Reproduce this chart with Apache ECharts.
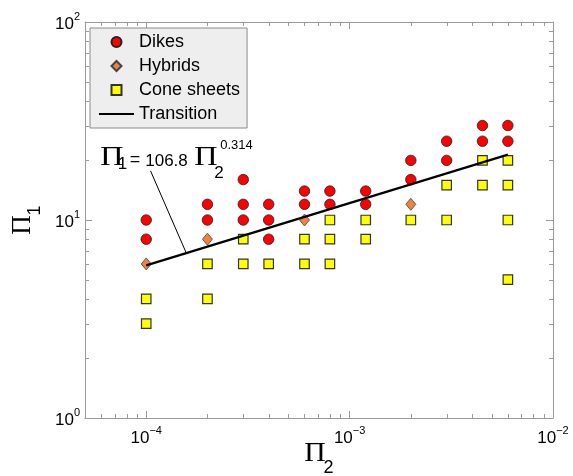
<!DOCTYPE html>
<html>
<head>
<meta charset="utf-8">
<script src="https://cdn.jsdelivr.net/npm/echarts@6/dist/echarts.min.js"></script>
<style>html,body{margin:0;padding:0;background:#fff}#c{width:573px;height:476px}</style>
</head>
<body>
<div id="c"></div>
<script>
const dikesX = [1e-4,1e-4, 2e-4,2e-4, 3e-4,3e-4,3e-4, 4e-4,4e-4,4e-4, 6e-4,6e-4, 8e-4,8e-4, 1.2e-3,1.2e-3, 2e-3,2e-3, 3e-3,3e-3, 4.5e-3,4.5e-3, 6e-3,6e-3];
const dikesY = [10,8, 12,10, 16,12,10, 12,10,8, 14,12, 14,12, 14,12, 20,16, 25,20, 30,25, 30,25];
const hybridsX = [1e-4, 2e-4, 6e-4, 2e-3];
const hybridsY = [6, 8, 10, 12];
const coneX = [1e-4,1e-4, 2e-4,2e-4, 3e-4,3e-4, 4e-4, 6e-4,6e-4, 8e-4,8e-4,8e-4, 1.2e-3,1.2e-3, 2e-3, 3e-3,3e-3, 4.5e-3,4.5e-3, 6e-3,6e-3,6e-3,6e-3];
const coneY = [4,3, 6,4, 8,6, 6, 8,6, 10,8,6, 10,8, 10, 15,10, 20,15, 20,15,10,5];
const transX = [1e-4, 6e-3];
const transY = [5.9, 21.4];
const leaderX = [1.05e-4, 1.57e-4];
const leaderY = [17.7, 6.85];
const xMinorTicks = [6e-5,7e-5,8e-5,9e-5, 2e-4,3e-4,4e-4,5e-4,6e-4,7e-4,8e-4,9e-4, 2e-3,3e-3,4e-3,5e-3,6e-3,7e-3,8e-3,9e-3];
const yMinorTicks = [2,3,4,5,6,7,8,9, 20,30,40,50,60,70,80,90];
const xMin = 5e-5, xMax = 1e-2, yMin = 1, yMax = 100;

const zip = (a, b) => a.map((v, i) => [v, b[i]]);
const SANS = 'Liberation Sans, Arial, Helvetica, sans-serif';
const SERIF = 'Liberation Serif, Times New Roman, serif';
const AX = '#9a9a9a';

function powLabel(v) {
  const e = Math.log10(v);
  if (Math.abs(e - Math.round(e)) > 1e-6) return '';
  const n = Math.round(e);
  return '{b|10}{s|' + (n < 0 ? '\u2212' + (-n) : n) + '}';
}
const labelRich = {
  b: {fontSize: 17, fontFamily: SANS, color: '#000', lineHeight: 22, verticalAlign: 'bottom'},
  s: {fontSize: 11, fontFamily: SANS, color: '#000', lineHeight: 11, verticalAlign: 'top'}
};

const chart = echarts.init(document.getElementById('c'), null, {renderer: 'canvas'});

function minorX(params, api) {
  const v = api.value(0);
  const a = api.coord([v, yMin]);
  const b = api.coord([v, yMax]);
  const st = {stroke: AX, lineWidth: 1};
  return {type: 'group', children: [
    {type: 'line', shape: {x1: Math.round(a[0]) + 0.5, y1: a[1], x2: Math.round(a[0]) + 0.5, y2: a[1] - 4}, style: st},
    {type: 'line', shape: {x1: Math.round(b[0]) + 0.5, y1: b[1], x2: Math.round(b[0]) + 0.5, y2: b[1] + 4}, style: st}
  ]};
}
function minorY(params, api) {
  const v = api.value(1);
  const a = api.coord([xMin, v]);
  const b = api.coord([xMax, v]);
  const st = {stroke: AX, lineWidth: 1};
  return {type: 'group', children: [
    {type: 'line', shape: {x1: a[0], y1: Math.round(a[1]) + 0.5, x2: a[0] + 4, y2: Math.round(a[1]) + 0.5}, style: st},
    {type: 'line', shape: {x1: b[0], y1: Math.round(b[1]) + 0.5, x2: b[0] - 4, y2: Math.round(b[1]) + 0.5}, style: st}
  ]};
}

const axisCommon = {
  type: 'log', logBase: 10,
  axisLine: {show: true, lineStyle: {color: AX, width: 1}},
  axisTick: {show: true, inside: true, length: 7, lineStyle: {color: AX}},
  splitLine: {show: false},
  minorTick: {show: false}
};

const option = {
  backgroundColor: '#fff',
  animation: false,
  grid: {left: 85, right: 20, top: 22, bottom: 58, containLabel: false},
  legend: {
    left: 90, top: 28, orient: 'vertical',
    data: [
      {name: 'Dikes', icon: 'circle'},
      {name: 'Hybrids', icon: 'path://M5,0L10,5L5,10L0,5Z'},
      {name: 'Cone sheets', icon: 'path://M0,0L10,0L10,10L0,10Z'},
      {name: 'Transition', itemStyle: {color: 'rgba(0,0,0,0)', borderWidth: 0, opacity: 0}}],
    symbolKeepAspect: true,
    backgroundColor: '#eeeeee', borderColor: '#8a8a8a', borderWidth: 1,
    padding: [5, 7, 5, 8], itemGap: 6, itemWidth: 35, itemHeight: 10,
    textStyle: {fontSize: 18, fontFamily: SANS, color: '#000'},
    selectedMode: false
  },
  xAxis: [
    Object.assign({}, axisCommon, {min: xMin, max: xMax, position: 'bottom',
      axisLabel: {formatter: powLabel, rich: labelRich, margin: 7, showMinLabel: false}}),
    Object.assign({}, axisCommon, {min: xMin, max: xMax, position: 'top', axisLabel: {show: false}})
  ],
  yAxis: [
    Object.assign({}, axisCommon, {min: yMin, max: yMax, position: 'left',
      axisLabel: {formatter: powLabel, rich: labelRich, margin: 5}}),
    Object.assign({}, axisCommon, {min: yMin, max: yMax, position: 'right', axisLabel: {show: false}})
  ],
  series: [
    {name: 'minorX', type: 'custom', renderItem: minorX, data: xMinorTicks.map(v => [v, yMin]), silent: true, z: 1},
    {name: 'minorY', type: 'custom', renderItem: minorY, data: yMinorTicks.map(v => [xMin, v]), silent: true, z: 1},
    {name: 'Dikes', type: 'scatter', data: zip(dikesX, dikesY), symbol: 'circle', symbolSize: 10.5,
      itemStyle: {color: '#ff0000', borderColor: '#222', borderWidth: 0.8, opacity: 1}, z: 3},
    {name: 'Hybrids', type: 'scatter', data: zip(hybridsX, hybridsY), symbol: 'diamond', symbolSize: [10, 12],
      itemStyle: {color: '#f0823c', borderColor: '#444', borderWidth: 0.8, opacity: 1}, z: 3},
    {name: 'Cone sheets', type: 'scatter', data: zip(coneX, coneY), symbol: 'rect', symbolSize: 9.5,
      itemStyle: {color: '#ffff00', borderColor: '#333', borderWidth: 1.2, opacity: 1}, z: 3},
    {name: 'Transition', type: 'line', data: zip(transX, transY), symbol: 'none', showSymbol: false,
      lineStyle: {color: '#000', width: 2.2}, itemStyle: {color: 'rgba(0,0,0,0)', borderWidth: 0}, z: 4},
    {name: 'leader', type: 'line', data: zip(leaderX, leaderY), symbol: 'none', showSymbol: false,
      lineStyle: {color: '#000', width: 1}, z: 4, silent: true}
  ],
  graphic: [
    // annotation: Π1 = 106.8 Π2^0.314
    {type: 'text', x: 112, y: 157.5, scaleX: 1.15, style: {text: '\u03A0', font: '28px ' + SERIF, fill: '#000', textAlign: 'center', textVerticalAlign: 'middle'}},
    {type: 'text', x: 122.5, y: 164.5, style: {text: '1', font: '17px ' + SANS, fill: '#000', textAlign: 'center', textVerticalAlign: 'middle'}},
    {type: 'text', x: 135, y: 160, style: {text: '=', font: '18px ' + SANS, fill: '#000', textAlign: 'center', textVerticalAlign: 'middle'}},
    {type: 'text', x: 166.5, y: 161, style: {text: '106.8', font: '17px ' + SANS, fill: '#000', textAlign: 'center', textVerticalAlign: 'middle'}},
    {type: 'text', x: 206, y: 157.5, scaleX: 1.15, style: {text: '\u03A0', font: '28px ' + SERIF, fill: '#000', textAlign: 'center', textVerticalAlign: 'middle'}},
    {type: 'text', x: 219, y: 173.5, style: {text: '2', font: '17px ' + SANS, fill: '#000', textAlign: 'center', textVerticalAlign: 'middle'}},
    {type: 'text', x: 236.5, y: 145.5, style: {text: '0.314', font: '13px ' + SANS, fill: '#000', textAlign: 'center', textVerticalAlign: 'middle'}},
    // x axis name Π2
    {type: 'text', x: 315, y: 454, scaleX: 1.1, style: {text: '\u03A0', font: '27px ' + SERIF, fill: '#000', textAlign: 'center', textVerticalAlign: 'middle'}},
    {type: 'text', x: 328.5, y: 468.5, style: {text: '2', font: '18px ' + SANS, fill: '#000', textAlign: 'center', textVerticalAlign: 'middle'}},
    // y axis name Π1 (rotated)
    {type: 'text', x: 22.5, y: 225, rotation: Math.PI / 2, style: {text: '\u03A0', font: '27px ' + SERIF, fill: '#000', textAlign: 'center', textVerticalAlign: 'middle'}},
    {type: 'text', x: 35, y: 210.5, rotation: Math.PI / 2, style: {text: '1', font: '18px ' + SANS, fill: '#000', textAlign: 'center', textVerticalAlign: 'middle'}}
  ]
};
chart.setOption(option);
</script>
</body>
</html>
